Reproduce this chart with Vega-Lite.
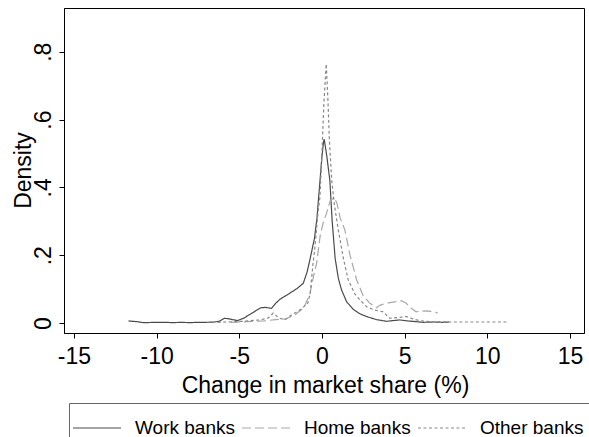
{
  "$schema": "https://vega.github.io/schema/vega-lite/v6.json",
  "width": 520,
  "height": 325,
  "autosize": {"type": "none"},
  "padding": {"left": 64, "top": 8, "right": 5, "bottom": 104},
  "background": "white",
  "config": {
    "font": "Liberation Sans",
    "view": {"stroke": "black", "strokeWidth": 1},
    "axis": {"grid": false, "domainColor": "black", "tickColor": "black", "tickSize": 5, "labelColor": "black", "titleColor": "black", "labelFont": "Liberation Sans", "titleFont": "Liberation Sans", "labelFontSize": 23, "titleFontSize": 23, "titleFontWeight": "normal"},
    "legend": {"labelFont": "Liberation Sans", "labelFontSize": 19, "labelColor": "black"}
  },
  "data": {"values": [
    {"series": "Work banks", "x": -11.7, "y": 0.006},
    {"series": "Work banks", "x": -11.2, "y": 0.004},
    {"series": "Work banks", "x": -10.8, "y": 0.001},
    {"series": "Work banks", "x": -10.0, "y": 0.002},
    {"series": "Work banks", "x": -9.5, "y": 0.002},
    {"series": "Work banks", "x": -9.0, "y": 0.001},
    {"series": "Work banks", "x": -8.5, "y": 0.002},
    {"series": "Work banks", "x": -8.0, "y": 0.001},
    {"series": "Work banks", "x": -7.5, "y": 0.002},
    {"series": "Work banks", "x": -7.0, "y": 0.002},
    {"series": "Work banks", "x": -6.5, "y": 0.003},
    {"series": "Work banks", "x": -6.2, "y": 0.005},
    {"series": "Work banks", "x": -5.9, "y": 0.014},
    {"series": "Work banks", "x": -5.6, "y": 0.012},
    {"series": "Work banks", "x": -5.1, "y": 0.007},
    {"series": "Work banks", "x": -4.7, "y": 0.015},
    {"series": "Work banks", "x": -4.2, "y": 0.03},
    {"series": "Work banks", "x": -3.7, "y": 0.045},
    {"series": "Work banks", "x": -3.4, "y": 0.046},
    {"series": "Work banks", "x": -3.05, "y": 0.043},
    {"series": "Work banks", "x": -2.8, "y": 0.058},
    {"series": "Work banks", "x": -2.54, "y": 0.07},
    {"series": "Work banks", "x": -2.2, "y": 0.08},
    {"series": "Work banks", "x": -1.94, "y": 0.088},
    {"series": "Work banks", "x": -1.5, "y": 0.102},
    {"series": "Work banks", "x": -1.13, "y": 0.117},
    {"series": "Work banks", "x": -0.9, "y": 0.15},
    {"series": "Work banks", "x": -0.73, "y": 0.186},
    {"series": "Work banks", "x": -0.45, "y": 0.25},
    {"series": "Work banks", "x": -0.3, "y": 0.31},
    {"series": "Work banks", "x": -0.15, "y": 0.4},
    {"series": "Work banks", "x": 0.0, "y": 0.49},
    {"series": "Work banks", "x": 0.1, "y": 0.535},
    {"series": "Work banks", "x": 0.14, "y": 0.542},
    {"series": "Work banks", "x": 0.3, "y": 0.49},
    {"series": "Work banks", "x": 0.48, "y": 0.42},
    {"series": "Work banks", "x": 0.62, "y": 0.3},
    {"series": "Work banks", "x": 0.8, "y": 0.19},
    {"series": "Work banks", "x": 1.0, "y": 0.13},
    {"series": "Work banks", "x": 1.19, "y": 0.097},
    {"series": "Work banks", "x": 1.5, "y": 0.062},
    {"series": "Work banks", "x": 1.9, "y": 0.04},
    {"series": "Work banks", "x": 2.3, "y": 0.027},
    {"series": "Work banks", "x": 2.7, "y": 0.019},
    {"series": "Work banks", "x": 3.3, "y": 0.01},
    {"series": "Work banks", "x": 3.9, "y": 0.005},
    {"series": "Work banks", "x": 4.3, "y": 0.007},
    {"series": "Work banks", "x": 4.7, "y": 0.009},
    {"series": "Work banks", "x": 5.2, "y": 0.006},
    {"series": "Work banks", "x": 5.7, "y": 0.004},
    {"series": "Work banks", "x": 6.1, "y": 0.002},
    {"series": "Work banks", "x": 6.8, "y": 0.003},
    {"series": "Work banks", "x": 7.3, "y": 0.002},
    {"series": "Work banks", "x": 7.7, "y": 0.003},

    {"series": "Home banks", "x": -5.5, "y": 0.002},
    {"series": "Home banks", "x": -4.5, "y": 0.004},
    {"series": "Home banks", "x": -3.5, "y": 0.006},
    {"series": "Home banks", "x": -2.8, "y": 0.01},
    {"series": "Home banks", "x": -2.2, "y": 0.012},
    {"series": "Home banks", "x": -1.6, "y": 0.025},
    {"series": "Home banks", "x": -1.1, "y": 0.045},
    {"series": "Home banks", "x": -0.73, "y": 0.085},
    {"series": "Home banks", "x": -0.5, "y": 0.14},
    {"series": "Home banks", "x": -0.32, "y": 0.176},
    {"series": "Home banks", "x": -0.1, "y": 0.26},
    {"series": "Home banks", "x": 0.1, "y": 0.3},
    {"series": "Home banks", "x": 0.28, "y": 0.324},
    {"series": "Home banks", "x": 0.5, "y": 0.36},
    {"series": "Home banks", "x": 0.72, "y": 0.37},
    {"series": "Home banks", "x": 0.9, "y": 0.355},
    {"series": "Home banks", "x": 1.1, "y": 0.31},
    {"series": "Home banks", "x": 1.39, "y": 0.274},
    {"series": "Home banks", "x": 1.7, "y": 0.2},
    {"series": "Home banks", "x": 2.1, "y": 0.127},
    {"series": "Home banks", "x": 2.5, "y": 0.08},
    {"series": "Home banks", "x": 2.9, "y": 0.058},
    {"series": "Home banks", "x": 3.3, "y": 0.045},
    {"series": "Home banks", "x": 3.5, "y": 0.052},
    {"series": "Home banks", "x": 3.8, "y": 0.057},
    {"series": "Home banks", "x": 4.1, "y": 0.06},
    {"series": "Home banks", "x": 4.5, "y": 0.063},
    {"series": "Home banks", "x": 4.8, "y": 0.066},
    {"series": "Home banks", "x": 5.1, "y": 0.058},
    {"series": "Home banks", "x": 5.3, "y": 0.048},
    {"series": "Home banks", "x": 5.5, "y": 0.04},
    {"series": "Home banks", "x": 5.7, "y": 0.033},
    {"series": "Home banks", "x": 6.0, "y": 0.035},
    {"series": "Home banks", "x": 6.4, "y": 0.036},
    {"series": "Home banks", "x": 6.8, "y": 0.032},
    {"series": "Home banks", "x": 7.0, "y": 0.03},

    {"series": "Other banks", "x": -6.3, "y": 0.002},
    {"series": "Other banks", "x": -5.8, "y": 0.003},
    {"series": "Other banks", "x": -5.2, "y": 0.004},
    {"series": "Other banks", "x": -4.8, "y": 0.005},
    {"series": "Other banks", "x": -4.36, "y": 0.007},
    {"series": "Other banks", "x": -3.75, "y": 0.009},
    {"series": "Other banks", "x": -3.25, "y": 0.015},
    {"series": "Other banks", "x": -2.95, "y": 0.029},
    {"series": "Other banks", "x": -2.6, "y": 0.015},
    {"series": "Other banks", "x": -2.24, "y": 0.009},
    {"series": "Other banks", "x": -1.8, "y": 0.025},
    {"series": "Other banks", "x": -1.33, "y": 0.038},
    {"series": "Other banks", "x": -0.85, "y": 0.059},
    {"series": "Other banks", "x": -0.7, "y": 0.09},
    {"series": "Other banks", "x": -0.55, "y": 0.17},
    {"series": "Other banks", "x": -0.42, "y": 0.225},
    {"series": "Other banks", "x": -0.25, "y": 0.32},
    {"series": "Other banks", "x": -0.12, "y": 0.373},
    {"series": "Other banks", "x": 0.0, "y": 0.5},
    {"series": "Other banks", "x": 0.12, "y": 0.65},
    {"series": "Other banks", "x": 0.26, "y": 0.764},
    {"series": "Other banks", "x": 0.37, "y": 0.65},
    {"series": "Other banks", "x": 0.45, "y": 0.54},
    {"series": "Other banks", "x": 0.59, "y": 0.422},
    {"series": "Other banks", "x": 0.75, "y": 0.35},
    {"series": "Other banks", "x": 0.99, "y": 0.274},
    {"series": "Other banks", "x": 1.3, "y": 0.19},
    {"series": "Other banks", "x": 1.59, "y": 0.127},
    {"series": "Other banks", "x": 2.0, "y": 0.085},
    {"series": "Other banks", "x": 2.3, "y": 0.068},
    {"series": "Other banks", "x": 2.7, "y": 0.048},
    {"series": "Other banks", "x": 3.2, "y": 0.038},
    {"series": "Other banks", "x": 3.7, "y": 0.033},
    {"series": "Other banks", "x": 4.1, "y": 0.014},
    {"series": "Other banks", "x": 4.6, "y": 0.016},
    {"series": "Other banks", "x": 5.1, "y": 0.019},
    {"series": "Other banks", "x": 5.5, "y": 0.012},
    {"series": "Other banks", "x": 5.9, "y": 0.007},
    {"series": "Other banks", "x": 6.5, "y": 0.004},
    {"series": "Other banks", "x": 7.5, "y": 0.003},
    {"series": "Other banks", "x": 8.5, "y": 0.003},
    {"series": "Other banks", "x": 9.5, "y": 0.003},
    {"series": "Other banks", "x": 10.5, "y": 0.003},
    {"series": "Other banks", "x": 11.3, "y": 0.003}
  ]},
  "mark": {"type": "line", "strokeWidth": 1.2, "interpolate": "linear"},
  "encoding": {
    "x": {
      "field": "x", "type": "quantitative",
      "scale": {"domain": [-15.6, 15.85], "nice": false, "zero": false},
      "axis": {"values": [-15, -10, -5, 0, 5, 10, 15], "labelExpr": "'' + datum.value", "title": "Change in market share (%)", "labelPadding": 7, "titleX": 261, "titleY": 59, "titleBaseline": "alphabetic", "titleAlign": "center", "labelFlush": false, "labelOverlap": false}
    },
    "y": {
      "field": "y", "type": "quantitative",
      "scale": {"domain": [-0.0295, 0.929], "nice": false, "zero": false},
      "axis": {"values": [0, 0.2, 0.4, 0.6, 0.8], "labelExpr": "datum.value == 0 ? '0' : replace(format(datum.value, '.1f'), '0.', '.')", "title": "Density", "labelAngle": -90, "labelAlign": "center", "labelBaseline": "alphabetic", "labelPadding": 9, "titleAngle": -90, "titleX": -34, "titleY": 162, "titleAlign": "center", "titleBaseline": "alphabetic", "labelFlush": false, "labelOverlap": false}
    },
    "color": {
      "field": "series", "type": "nominal",
      "scale": {"domain": ["Work banks", "Home banks", "Other banks"], "range": ["#4a4a4a", "#a8a8a8", "#888888"]},
      "legend": {"title": null, "orient": "none", "legendX": 5, "legendY": 395, "direction": "horizontal", "columns": 3, "symbolType": "M-1.5,0L1.93,0", "symbolSize": 784, "symbolStrokeWidth": 1.2, "labelOffset": 26, "columnPadding": 4, "padding": 10, "strokeColor": "#666666", "fillColor": "white", "labelLimit": 300}
    },
    "strokeDash": {
      "field": "series", "type": "nominal",
      "scale": {"domain": ["Work banks", "Home banks", "Other banks"], "range": [[1, 0], [9, 4], [3, 2.5]]},
      "legend": null
    }
  }
}
